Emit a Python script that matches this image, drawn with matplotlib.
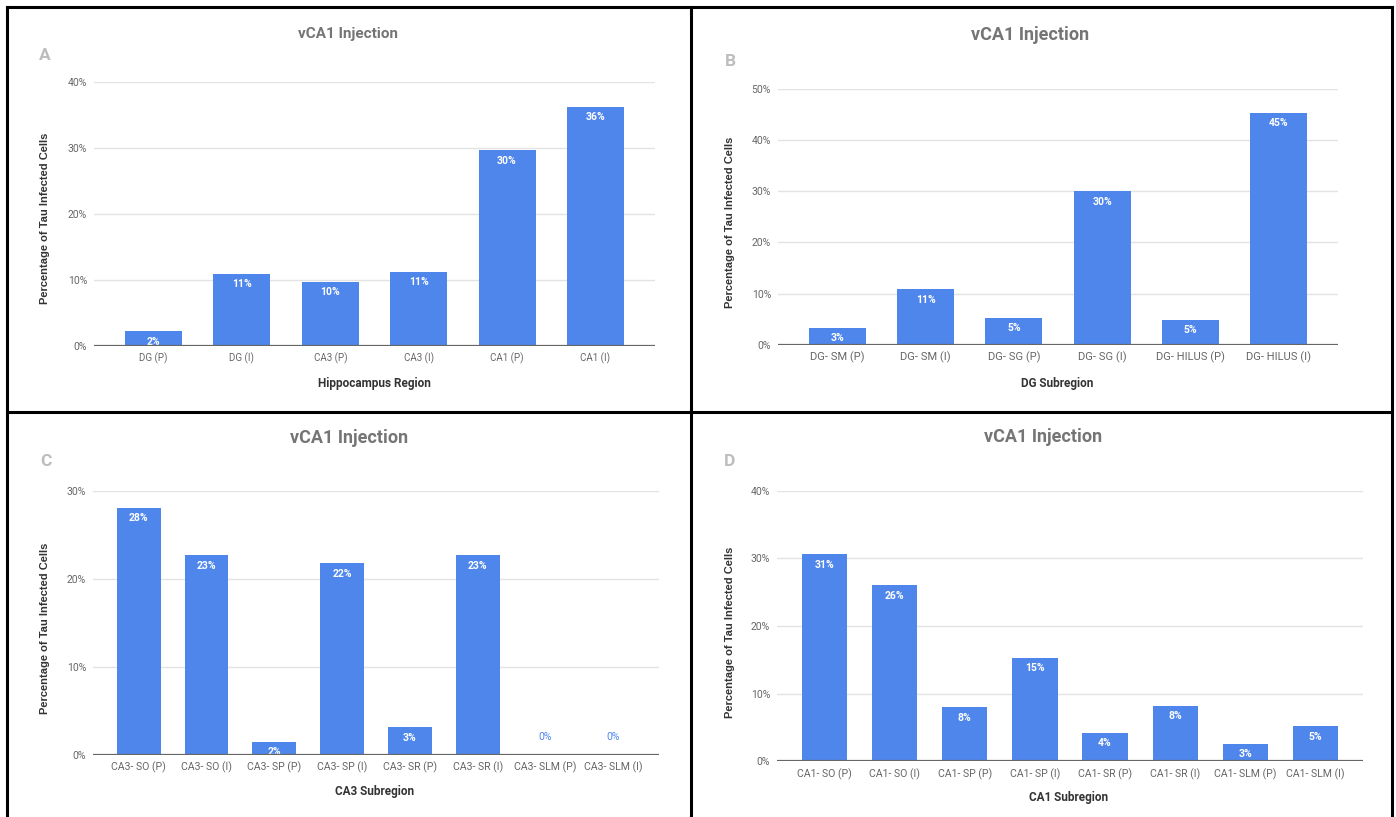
"""Recreate the four vCA1 injection bar charts (panels A-D) in one figure."""

import matplotlib.pyplot as plt
from matplotlib.lines import Line2D

# ---- data -------------------------------------------------------------
regions_a = ["DG (P)", "DG (I)", "CA3 (P)", "CA3 (I)", "CA1 (P)", "CA1 (I)"]
values_a = [2.2, 10.9, 9.7, 11.2, 29.6, 36.2]

regions_b = ["DG- SM (P)", "DG- SM (I)", "DG- SG (P)", "DG- SG (I)",
             "DG- HILUS (P)", "DG- HILUS (I)"]
values_b = [3.3, 10.8, 5.3, 30.0, 4.9, 45.4]

regions_c = ["CA3- SO (P)", "CA3- SO (I)", "CA3- SP (P)", "CA3- SP (I)",
             "CA3- SR (P)", "CA3- SR (I)", "CA3- SLM (P)", "CA3- SLM (I)"]
values_c = [28.1, 22.7, 1.5, 21.8, 3.1, 22.7, 0.0, 0.0]

regions_d = ["CA1- SO (P)", "CA1- SO (I)", "CA1- SP (P)", "CA1- SP (I)",
             "CA1- SR (P)", "CA1- SR (I)", "CA1- SLM (P)", "CA1- SLM (I)"]
values_d = [30.6, 26.0, 8.0, 15.3, 4.2, 8.2, 2.6, 5.2]

BAR = "#4f86ec"
W, H = 1396, 817

plt.rcParams["font.family"] = ["Roboto", "DejaVu Sans"]
fig = plt.figure(figsize=(W / 100, H / 100), dpi=100)


def px_axes(x0, x1, y0, y1):
    return fig.add_axes([x0 / W, 1 - y1 / H, (x1 - x0) / W, (y1 - y0) / H])


def panel(box, letter, cats, vals, ymax, xtitle, title_xy, letter_xy,
          ylab_xy, xtitle_xy, tick_fs, title_fs):
    ax = px_axes(*box)
    x = range(len(cats))
    ax.bar(x, vals, width=0.645, color=BAR, zorder=3)
    ax.set_xlim(-0.675, len(cats) - 1 + 0.675)
    ax.set_ylim(0, ymax)
    ax.set_yticks(range(0, ymax + 1, 10))
    ax.set_yticklabels([f"{t}%" for t in range(0, ymax + 1, 10)],
                       fontsize=7.5, color="#666666")
    ax.set_xticks(list(x))
    ax.set_xticklabels(cats, fontsize=tick_fs, color="#666666")
    ax.tick_params(length=0, pad=5)
    ax.grid(axis="y", color="#e3e3e3", lw=1, zorder=0)
    for s in ax.spines.values():
        s.set_visible(False)
    ax.axhline(0, color="#666666", lw=1.6, zorder=4)
    for xi, v in zip(x, vals):
        if v > 0:
            ax.annotate(f"{round(v)}%", (xi, v), xytext=(0, -4),
                        textcoords="offset points", ha="center", va="top",
                        color="white", fontsize=7.5, fontweight="bold")
        else:
            ax.annotate(f"{round(v)}%", (xi, v), xytext=(0, 9),
                        textcoords="offset points", ha="center", va="bottom",
                        color=BAR, fontsize=7.5)

    fig.text(title_xy[0] / W, 1 - title_xy[1] / H, "vCA1 Injection",
             ha="center", va="center", fontsize=title_fs, fontweight="bold",
             color="#757575")
    fig.text(letter_xy[0] / W, 1 - letter_xy[1] / H, letter, ha="center",
             va="center", fontsize=12.5, fontweight="bold", color="#bdbdbd")
    fig.text(ylab_xy[0] / W, 1 - ylab_xy[1] / H,
             "Percentage of Tau Infected Cells", rotation=90, ha="center",
             va="center", fontsize=8, fontweight="bold", color="#333333",
             family="Liberation Sans")
    fig.text(xtitle_xy[0] / W, 1 - xtitle_xy[1] / H, xtitle, ha="center",
             va="center", fontsize=8.5, fontweight="bold", color="#333333")
    return ax


panel((94, 655, 81.7, 345.7), "A", regions_a, values_a, 40,
      "Hippocampus Region", (348, 34), (45, 55), (45, 218), (374, 384), 7, 11)
panel((778, 1338, 89, 344.7), "B", regions_b, values_b, 50,
      "DG Subregion", (1030, 35), (730, 61), (730, 222), (1057, 383), 8, 13)
panel((93, 659, 491, 754.7), "C", regions_c, values_c, 30,
      "CA3 Subregion", (349, 438), (46, 462), (45, 628), (375, 792), 7.6, 13)
panel((777, 1363, 490.7, 761.3), "D", regions_d, values_d, 40,
      "CA1 Subregion", (1043, 437), (730, 462), (730, 632), (1069, 798), 7.6, 13)

# table borders around the four panels
border = dict(color="black", lw=2.2, transform=fig.transFigure)
for xs, ys in [((7, 7), (7, 817)), ((691, 691), (7, 817)),
               ((1392, 1392), (7, 817)), ((7, 1392), (7, 7)),
               ((7, 1392), (412, 412))]:
    fig.add_artist(Line2D([v / W for v in xs], [1 - v / H for v in ys],
                          **border))

fig.savefig("out.png", dpi=100, facecolor="white")
